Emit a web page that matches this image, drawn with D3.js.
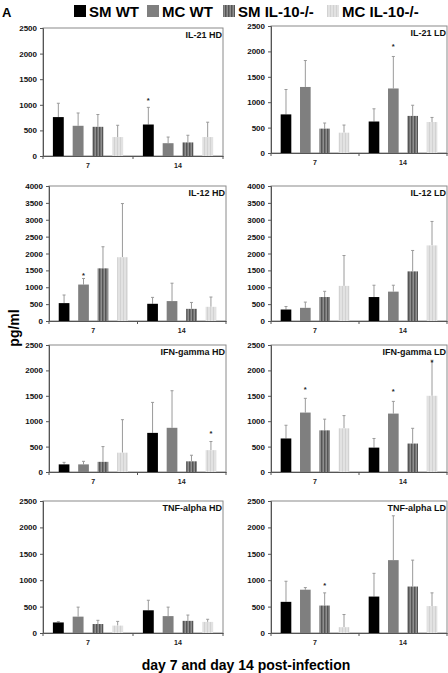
<!DOCTYPE html>
<html><head><meta charset="utf-8">
<script src="https://cdn.jsdelivr.net/npm/d3@7"></script>
<style>body{margin:0;background:#fff}svg{display:block;font-family:"Liberation Sans",Arial,sans-serif}</style>
</head><body><svg id="c" width="448" height="673"></svg>
<script>
// ---------- data ----------
const days = ["7", "14"];
const series = ["SM WT", "MC WT", "SM IL-10-/-", "MC IL-10-/-"];
const titles = ["IL-21 HD", "IL-21 LD", "IL-12 HD", "IL-12 LD", "IFN-gamma HD", "IFN-gamma LD", "TNF-alpha HD", "TNF-alpha LD"];
const yMax = [2500, 2500, 4000, 4000, 2500, 2500, 2500, 2500];
const yStep = 500;
// means per panel: [day7 values by series], [day14 values by series]
const il21HD = [[760, 590, 570, 370], [615, 250, 265, 370]];
const il21LD = [[760, 1300, 480, 400], [620, 1270, 730, 610]];
const il12HD = [[530, 1080, 1560, 1890], [510, 590, 360, 420]];
const il12LD = [[340, 390, 710, 1040], [710, 870, 1470, 2240]];
const ifnHD = [[150, 150, 200, 380], [770, 870, 210, 430]];
const ifnLD = [[660, 1170, 820, 860], [480, 1150, 560, 1500]];
const tnfHD = [[200, 310, 170, 140], [430, 320, 230, 210]];
const tnfLD = [[590, 820, 520, 110], [690, 1380, 880, 510]];
// top of the (upper) error bar
const il21HD_err = [[1030, 840, 810, 600], [950, 370, 405, 660]];
const il21LD_err = [[1250, 1820, 590, 550], [870, 1900, 940, 700]];
const il12HD_err = [[770, 1260, 2200, 3480], [700, 1120, 550, 710]];
const il12LD_err = [[430, 560, 880, 1940], [1060, 1060, 2090, 2950]];
const ifnHD_err = [[190, 210, 500, 1030], [1370, 1600, 330, 600]];
const ifnLD_err = [[920, 1450, 1040, 1110], [660, 1390, 860, 2200]];
const tnfHD_err = [[215, 490, 240, 220], [620, 490, 340, 260]];
const tnfLD_err = [[980, 860, 760, 350], [1130, 2220, 1380, 760]];
// significance stars: [panel, day, series, value where star sits]
const stars = [[0, 1, 0, 1130], [1, 1, 1, 2150], [2, 0, 1, 1430], [4, 1, 3, 810], [5, 0, 1, 1670], [5, 1, 1, 1640], [5, 1, 3, 2210], [7, 0, 2, 950]];

const means = [il21HD, il21LD, il12HD, il12LD, ifnHD, ifnLD, tnfHD, tnfLD];
const errs = [il21HD_err, il21LD_err, il12HD_err, il12LD_err, ifnHD_err, ifnLD_err, tnfHD_err, tnfLD_err];

// ---------- layout ----------
// [left, right, top, bottom]
const frames = [
  [43, 223, 28, 156], [271, 447, 26, 153],
  [49, 226, 186, 321], [271, 447, 186, 321],
  [49, 226, 345, 472], [271, 447, 345, 472],
  [43, 223, 501, 633], [271, 447, 501, 633]
];

const svg = d3.select("#c");
const defs = svg.append("defs");
const p1 = defs.append("pattern").attr("id", "pSM").attr("patternUnits", "userSpaceOnUse").attr("width", 3).attr("height", 4);
p1.append("rect").attr("width", 3).attr("height", 4).attr("fill", "#747474");
p1.append("rect").attr("width", 1).attr("height", 4).attr("fill", "#555");
p1.append("rect").attr("x", 2).attr("width", 1).attr("height", 4).attr("fill", "#8e8e8e");
const p2 = defs.append("pattern").attr("id", "pMC").attr("patternUnits", "userSpaceOnUse").attr("width", 3).attr("height", 4);
p2.append("rect").attr("width", 3).attr("height", 4).attr("fill", "#e2e2e2");
p2.append("rect").attr("width", 1).attr("height", 4).attr("fill", "#d2d2d2");
const fills = ["#000000", "#7f7f7f", "url(#pSM)", "url(#pMC)"];

means.forEach((m, i) => {
  const [L, R, T, B] = frames[i];
  const g = svg.append("g");
  const x0 = d3.scaleBand().domain(days).range([L, R]).padding(0);
  const x1 = d3.scaleBand().domain(series).range([0, x0.bandwidth()]).paddingInner(0.45).paddingOuter(0.5);
  const y = d3.scaleLinear().domain([0, yMax[i]]).range([B, T]);

  g.append("rect").attr("x", L).attr("y", T).attr("width", R - L).attr("height", B - T)
    .attr("fill", "none").attr("stroke", "#8a8a8a").attr("stroke-width", 1);

  // y axis
  const ya = g.append("g").attr("transform", `translate(${L},0)`)
    .call(d3.axisLeft(y).tickValues(d3.range(0, yMax[i] + 1, yStep)).tickSize(3).tickPadding(3).tickFormat(d3.format("d")));
  ya.select(".domain").attr("stroke", "#555");
  ya.selectAll(".tick line").attr("stroke", "#555");
  ya.selectAll("text").attr("font-size", 8).attr("font-weight", "bold").attr("fill", "#111").attr("font-family", "Liberation Sans, Arial, sans-serif");

  // x axis
  const xa = g.append("g").attr("transform", `translate(0,${B})`)
    .call(d3.axisBottom(x0).tickSize(0).tickPadding(7));
  xa.select(".domain").attr("stroke", "#555");
  xa.selectAll("text").attr("font-size", 7).attr("font-weight", "bold").attr("fill", "#222").attr("font-family", "Liberation Sans, Arial, sans-serif");
  const bounds = [x0.range()[0], x0(days[1]), x0.range()[1]];
  g.selectAll(".xt").data(bounds).join("line").attr("x1", d => d).attr("x2", d => d)
    .attr("y1", B).attr("y2", B + 3).attr("stroke", "#555");

  // bars
  days.forEach((d, di) => {
    series.forEach((s, si) => {
      const v = m[di][si], e = errs[i][di][si];
      const bx = x0(d) + x1(s), cx = bx + x1.bandwidth() / 2;
      g.append("line").attr("x1", cx).attr("x2", cx).attr("y1", y(v)).attr("y2", y(e))
        .attr("stroke", "#9a9a9a").attr("stroke-width", 1);
      g.append("line").attr("x1", cx - 1.5).attr("x2", cx + 1.5).attr("y1", y(e)).attr("y2", y(e))
        .attr("stroke", "#9a9a9a").attr("stroke-width", 1);
      g.append("rect").attr("x", bx).attr("y", y(v)).attr("width", x1.bandwidth()).attr("height", B - y(v))
        .attr("fill", fills[si]);
    });
  });

  // stars
  stars.filter(s => s[0] === i).forEach(s => {
    g.append("text").attr("x", x0(days[s[1]]) + x1(series[s[2]]) + x1.bandwidth() / 2).attr("y", y(s[3]) + 5)
      .attr("text-anchor", "middle").attr("font-size", 7.5).attr("font-weight", "bold").attr("fill", "#222").text("*");
  });

  // title
  g.append("text").attr("x", R - 1).attr("y", T + 9.5).attr("text-anchor", "end")
    .attr("font-size", 9).attr("font-weight", "bold").attr("fill", "#111").text(titles[i]);
});

// legend
svg.append("text").attr("x", 2).attr("y", 17).attr("font-size", 13).attr("font-weight", "bold").text("A");
const legX = [74, 147, 223, 327];
series.forEach((s, si) => {
  svg.append("rect").attr("x", legX[si]).attr("y", 5).attr("width", 12).attr("height", 12).attr("fill", fills[si]);
  svg.append("text").attr("x", legX[si] + 15).attr("y", 17).attr("font-size", 15).attr("font-weight", "bold").text(s);
});

// axis titles
svg.append("text").attr("transform", "translate(19,328) rotate(-90)").attr("text-anchor", "middle")
  .attr("font-size", 14).attr("font-weight", "bold").text("pg/ml");
svg.append("text").attr("x", 246).attr("y", 670).attr("text-anchor", "middle")
  .attr("font-size", 14).attr("font-weight", "bold").text("day 7 and day 14 post-infection");
</script></body></html>
